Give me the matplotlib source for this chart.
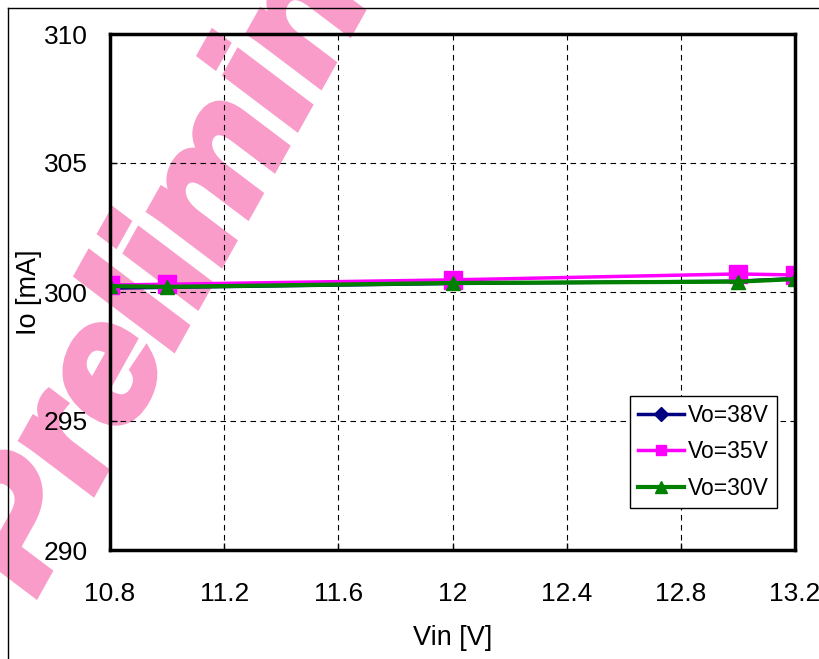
import numpy as np
import matplotlib.pyplot as plt
from matplotlib.lines import Line2D
from matplotlib.textpath import TextPath
from matplotlib.patches import PathPatch
from matplotlib.font_manager import FontProperties
from matplotlib.transforms import Affine2D

plt.rcParams['font.family'] = ['Liberation Sans', 'DejaVu Sans']

# --- data ---
vin = [10.8, 11.0, 12.0, 13.0, 13.2]
io_38 = [300.15, 300.18, 300.33, 300.42, 300.52]
io_35 = [300.27, 300.3, 300.47, 300.7, 300.66]
io_30 = [300.23, 300.2, 300.35, 300.4, 300.5]
series_labels = ['Vo=38V', 'Vo=35V', 'Vo=30V']

x_ticks = [10.8, 11.2, 11.6, 12.0, 12.4, 12.8, 13.2]
x_labels = ['10.8', '11.2', '11.6', '12', '12.4', '12.8', '13.2']
y_ticks = [290, 295, 300, 305, 310]

W, H = 819, 659
fig = plt.figure(figsize=(W / 100, H / 100), dpi=100)
fig.patch.set_facecolor('white')

# --- watermark: rotated, slightly squeezed heavy text (pixel coords) ---
wm_path = TextPath((0, 0), 'Preliminary',
                   prop=FontProperties(family='Liberation Sans', weight='bold'), size=1)
wm_tr = Affine2D().scale(182).rotate_deg(57).scale(0.86, 1).translate(30, 55)
fig.add_artist(PathPatch(wm_path, facecolor='#F99CC9', edgecolor='#F99CC9',
                         linewidth=6, joinstyle='miter',
                         transform=wm_tr, zorder=-1))

ax = fig.add_axes([110 / W, 1 - 550 / H, (795 - 110) / W, (550 - 34) / H])
ax.set_facecolor('none')

ax.plot(vin, io_38, color='#000080', lw=2.5, marker='D', ms=7, label=series_labels[0], zorder=3)
ax.plot(vin, io_35, color='#FF00FF', lw=2.5, marker='s', ms=13.5, label=series_labels[1], zorder=4)
ax.plot(vin, io_30, color='#008000', lw=3, marker='^', ms=10, label=series_labels[2], zorder=5)

ax.set_xlim(10.8, 13.2)
ax.set_ylim(290, 310)
ax.set_xticks(x_ticks)
ax.set_xticklabels(x_labels)
ax.set_yticks(y_ticks)
ax.tick_params(direction='in', length=5, width=1, labelsize=19)
ax.tick_params(axis='y', pad=16)
ax.tick_params(axis='x', pad=23)
ax.grid(True, color='black', linestyle=(0, (5, 4)), linewidth=0.8)
for s in ax.spines.values():
    s.set_linewidth(2.5)
    s.set_zorder(6)

ax.set_xlabel('Vin [V]', fontsize=19.5, labelpad=14)
ax.set_ylabel('Io [mA]', fontsize=19.5, labelpad=1)

leg = ax.legend(loc='lower right', bbox_to_anchor=(0.974, 0.081), borderaxespad=0,
                fontsize=16.5, frameon=True, fancybox=False, edgecolor='black',
                framealpha=1, handlelength=2.0, handletextpad=0.2,
                labelspacing=0.6, borderpad=0.35)
leg.get_frame().set_linewidth(1)
leg.set_zorder(7)
for h, ms in zip(leg.legend_handles, [7, 7.5, 8]):
    h.set_markersize(ms)

# outer chart frame
fig.add_artist(Line2D([8 / W, 8 / W], [0, 1 - 8 / H], color='black', lw=1, zorder=10))
fig.add_artist(Line2D([8 / W, 1], [1 - 8 / H, 1 - 8 / H], color='black', lw=1, zorder=10))

fig.savefig('out.png', dpi=100)
